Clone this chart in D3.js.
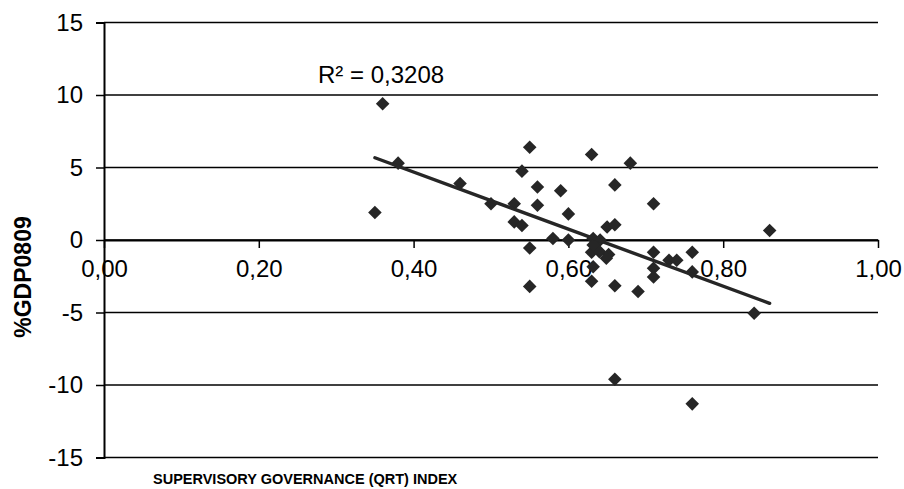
<!DOCTYPE html>
<html>
<head>
<meta charset="utf-8">
<script src="https://cdn.jsdelivr.net/npm/d3@7"></script>
<style>
  body { margin: 0; background: #fff; }
  text { font-family: Arial, "Liberation Sans", sans-serif; fill: #000; }
</style>
</head>
<body>
<script>
// supervisory governance index vs %GDP0809
var qrtIndex = [0.35, 0.36, 0.38, 0.46, 0.50, 0.53, 0.53, 0.54, 0.54, 0.55,
  0.55, 0.56, 0.56, 0.59, 0.60, 0.58, 0.60, 0.55, 0.63, 0.68,
  0.66, 0.71, 0.65, 0.66, 0.632, 0.641, 0.63, 0.64, 0.652, 0.649,
  0.632, 0.63, 0.66, 0.69, 0.71, 0.71, 0.71, 0.73, 0.74, 0.76,
  0.76, 0.86, 0.84, 0.66, 0.76, 0.632];
var gdp0809 = [1.9, 9.4, 5.3, 3.9, 2.5, 2.5, 1.25, 1.0, 4.75, 6.4,
  -0.55, 3.65, 2.4, 3.4, 1.8, 0.1, 0.0, -3.2, 5.9, 5.3,
  3.8, 2.5, 0.9, 1.05, 0.1, 0.0, -0.85, -0.8, -1.0, -1.25,
  -1.85, -2.85, -3.15, -3.55, -0.85, -1.95, -2.55, -1.4, -1.4, -0.85,
  -2.2, 0.65, -5.05, -9.6, -11.3, -0.35];
var xTicks = [0, 0.2, 0.4, 0.6, 0.8, 1.0];
var yTicks = [-15, -10, -5, 0, 5, 10, 15];
var rSquaredLabel = "R² = 0,3208";

var width = 904, height = 489;
var x = d3.scaleLinear().domain([0, 1]).range([104, 878]);
var y = d3.scaleLinear().domain([-15, 15]).range([457.5, 22.5]);
var ink = "#262626";
var font = "Arial, 'Liberation Sans', sans-serif";
var comma = function(v) { return d3.format(".2f")(v).replace(".", ","); };

var svg = d3.select("body").append("svg")
  .attr("width", width)
  .attr("height", height);

// horizontal gridlines
svg.append("g")
  .selectAll("line")
  .data(yTicks)
  .enter()
  .append("line")
  .attr("x1", x(0)).attr("x2", x(1))
  .attr("y1", function(d) { return y(d); })
  .attr("y2", function(d) { return y(d); })
  .attr("stroke", "#000")
  .attr("stroke-width", 1.5);

// y axis (plain hyphen for negatives, like the original)
var yAxis = svg.append("g")
  .attr("transform", "translate(" + x(0) + ",0)")
  .call(d3.axisLeft(y).tickValues(yTicks).tickFormat(function(d) { return String(d); })
    .tickSize(8).tickPadding(13));
yAxis.select(".domain").attr("stroke-width", 2);
yAxis.selectAll(".tick line").attr("stroke-width", 1.5);
yAxis.selectAll("text").attr("font-size", 24).attr("font-family", font);

// x axis crosses at zero
var xAxis = svg.append("g")
  .attr("transform", "translate(0," + y(0) + ")")
  .call(d3.axisBottom(x).tickValues(xTicks).tickFormat(comma).tickSize(8).tickSizeOuter(0).tickPadding(12));
xAxis.select(".domain").attr("stroke-width", 2);
xAxis.selectAll(".tick line").attr("stroke-width", 1.5);
xAxis.selectAll("text").attr("font-size", 24).attr("font-family", font);

// points
var points = qrtIndex.map(function(v, i) { return { x: v, y: gdp0809[i] }; });
svg.append("g")
  .selectAll("path")
  .data(points)
  .enter()
  .append("path")
  .attr("d", d3.symbol().type(d3.symbolSquare).size(92))
  .attr("transform", function(d) {
    return "translate(" + x(d.x) + "," + y(d.y) + ") rotate(45)";
  })
  .attr("fill", ink);

// least squares trendline over the data range
var mx = d3.mean(qrtIndex), my = d3.mean(gdp0809);
var sxy = d3.sum(points, function(d) { return (d.x - mx) * (d.y - my); });
var sxx = d3.sum(points, function(d) { return (d.x - mx) * (d.x - mx); });
var slope = sxy / sxx, intercept = my - slope * mx;
var ext = d3.extent(qrtIndex);
svg.append("line")
  .attr("x1", x(ext[0])).attr("y1", y(intercept + slope * ext[0]))
  .attr("x2", x(ext[1])).attr("y2", y(intercept + slope * ext[1]))
  .attr("stroke", ink)
  .attr("stroke-width", 3.4)
  .attr("stroke-linecap", "round");

svg.append("text")
  .attr("x", 318).attr("y", 83)
  .attr("font-size", 24)
  .text(rSquaredLabel);

// axis titles
svg.append("text")
  .attr("transform", "translate(31,277) rotate(-90)")
  .attr("text-anchor", "middle")
  .attr("font-size", 23)
  .attr("font-weight", "bold")
  .text("%GDP0809");

svg.append("text")
  .attr("x", 153).attr("y", 484)
  .attr("font-size", 14.5)
  .attr("font-weight", "bold")
  .text("SUPERVISORY GOVERNANCE (QRT) INDEX");
</script>
</body>
</html>
